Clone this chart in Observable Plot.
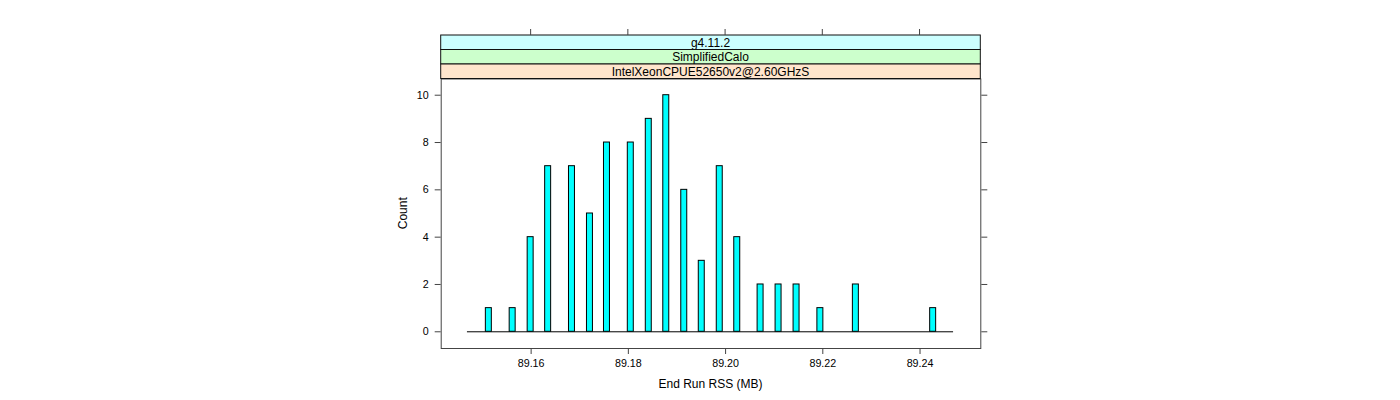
<!DOCTYPE html>
<html><head><meta charset="utf-8">
<script src="https://cdn.jsdelivr.net/npm/d3@7"></script>
<script src="https://cdn.jsdelivr.net/npm/@observablehq/plot@0.6"></script>
<style>body{margin:0;background:#fff} svg{display:block}</style>
</head><body><div id="chart"></div>
<script>
// Data
const rssValues = [89.1513, 89.1562, 89.1599, 89.1635, 89.1684, 89.1721, 89.1756, 89.1805, 89.1842, 89.1878,
                   89.1915, 89.1951, 89.1988, 89.2024, 89.2072, 89.2109, 89.2146, 89.2195, 89.2268, 89.2427];
const counts    = [1, 1, 4, 7, 7, 5, 8, 8, 9, 10,
                   6, 3, 7, 4, 2, 2, 2, 1, 2, 1];
const binWidth = 0.00123;
const baselineRange = [89.1469, 89.2469];
const xDomain = [89.1415, 89.2525];
const yDomain = [-0.706, 10.685];
const xTicks = [89.16, 89.18, 89.20, 89.22, 89.24];
const yTicks = [0, 2, 4, 6, 8, 10];
const stripLabels = ["g4.11.2", "SimplifiedCalo", "IntelXeonCPUE52650v2@2.60GHzS"];
const stripColors = ["#CCFFFF", "#CCFFCC", "#FFE5CC"];
const xLabel = "End Run RSS (MB)";
const yLabel = "Count";

const bars = rssValues.map((v, i) => ({v, count: counts[i]}));
const FONT = "'Liberation Sans', Arial, Helvetica, sans-serif";
const AXIS = "#444";

function decorations(index, scales, values, dim) {
  const g = d3.create("svg:g").attr("font-family", FONT);
  const left = dim.marginLeft, right = dim.width - dim.marginRight;
  const top = dim.marginTop, bottom = dim.height - dim.marginBottom;
  const stripH = 14.5;
  const n = stripLabels.length;
  stripLabels.forEach((lab, i) => {
    const y = top - (n - i) * stripH;
    g.append("rect").attr("x", left).attr("y", y).attr("width", right - left).attr("height", stripH)
      .attr("fill", stripColors[i]).attr("stroke", "#111").attr("stroke-width", 1);
    g.append("text").attr("x", (left + right) / 2).attr("y", y + stripH / 2).attr("dy", "0.36em")
      .attr("text-anchor", "middle").attr("font-size", 12).attr("fill", "black").text(lab);
  });
  const yTop = top - n * stripH;
  xTicks.forEach(t => {
    const x = scales.x(t);
    g.append("line").attr("x1", x).attr("x2", x).attr("y1", yTop).attr("y2", yTop - 6)
      .attr("stroke", AXIS);
  });
  g.append("text").attr("x", (left + right) / 2).attr("y", bottom + 36).attr("dy", "0.36em")
    .attr("text-anchor", "middle").attr("font-size", 12).attr("fill", "black").text(xLabel);
  g.append("text").attr("transform", `translate(${left - 38},${(top + bottom) / 2}) rotate(-90)`)
    .attr("dy", "0.36em").attr("text-anchor", "middle").attr("font-size", 12).attr("fill", "black").text(yLabel);
  return g.node();
}

const plot = Plot.plot({
  width: 1400,
  height: 400,
  marginLeft: 440.7,
  marginRight: 419.7,
  marginTop: 78.5,
  marginBottom: 52,
  style: {fontFamily: FONT, fontSize: "10.7px", background: "white", color: "black"},
  x: {domain: xDomain},
  y: {domain: yDomain},
  marks: [
    Plot.ruleY([0], {x1: baselineRange[0], x2: baselineRange[1], stroke: "black", strokeWidth: 1}),
    Plot.rectY(bars, {x1: d => d.v - binWidth / 2, x2: d => d.v + binWidth / 2, y: "count",
      fill: "#00FFFF", stroke: "black", strokeWidth: 1, inset: 0}),
    Plot.frame({stroke: AXIS}),
    Plot.axisY({anchor: "left", ticks: yTicks, tickSize: 6, tickPadding: 6.5, label: null, stroke: AXIS, fill: "black"}),
    Plot.axisY({anchor: "right", ticks: yTicks, tickSize: 6, tickFormat: () => "", label: null, stroke: AXIS}),
    Plot.axisX({anchor: "bottom", ticks: xTicks, tickSize: 6, tickPadding: 5, tickFormat: d3.format(".2f"), label: null, stroke: AXIS, fill: "black"}),
    decorations
  ]
});
document.getElementById("chart").appendChild(plot);
</script>
</body></html>
